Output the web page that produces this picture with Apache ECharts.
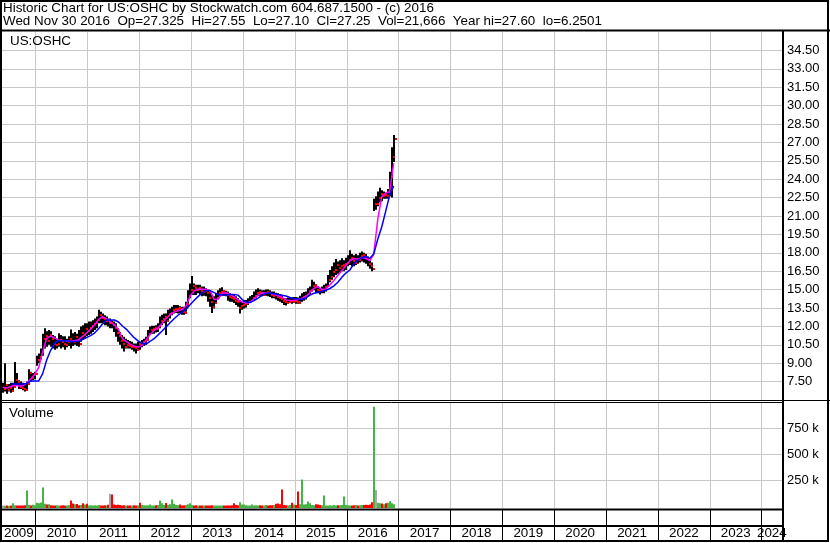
<!DOCTYPE html>
<html><head><meta charset="utf-8">
<script src="https://cdn.jsdelivr.net/npm/echarts@6.0.0/dist/echarts.min.js"></script>
<style>html,body{margin:0;padding:0;background:#fff}#c{width:830px;height:543px}</style>
</head><body><div id="c"></div>
<script>
// ---------------- DATA ----------------
// Bi-weekly bars: [period of year (0-25), high, low, close]
const bars2009 = [[9,7.4,6.6,6.9],[10,9.0,6.7,7.2],[11,7.2,6.5,6.8],[12,7.3,6.7,7.0],[13,7.4,6.6,6.7],[14,7.4,6.7,7.1],[15,9.1,7.0,7.6],[16,8.2,7.2,7.5],[17,7.6,6.9,7.1],[18,7.5,6.9,7.0],[19,7.4,6.8,6.9],[20,7.3,6.7,6.85],[21,7.5,6.9,7.3],[22,8.5,7.4,8.2],[23,8.3,7.5,7.8],[24,8.2,7.6,8.0],[25,8.3,7.7,8.1]];
const bars2010 = [[0,9.6,8.8,9.3],[1,9.8,9.0,9.5],[2,10.2,9.3,9.9],[3,11.4,9.6,11.0],[4,11.85,10.2,11.2],[5,11.6,10.35,10.8],[6,11.7,10.5,11.3],[7,11.6,10.35,11.0],[8,11.3,10.2,10.6],[9,11.2,10.1,10.5],[10,11.0,10.2,10.6],[11,11.45,10.35,10.9],[12,11.3,10.2,10.7],[13,11.2,10.3,10.6],[14,11.2,10.1,10.5],[15,11.0,10.3,10.7],[16,11.2,10.4,11.0],[17,11.75,10.2,10.8],[18,11.45,10.4,10.7],[19,11.55,10.5,11.1],[20,11.4,10.4,10.9],[21,11.7,10.35,10.6],[22,12.0,10.75,11.5],[23,12.1,10.9,11.3],[24,12.25,11.0,11.8],[25,12.25,11.2,11.6]];
const bars2011 = [[0,12.4,11.3,11.9],[1,12.4,11.4,12.0],[2,12.5,11.55,12.2],[3,12.65,11.7,12.3],[4,12.8,11.85,12.5],[5,13.35,12.25,12.9],[6,13.2,12.25,12.7],[7,13.05,12.25,12.6],[8,12.9,12.1,12.4],[9,12.8,12.1,12.5],[10,12.65,12.0,12.3],[11,12.65,11.85,12.3],[12,12.5,11.85,12.1],[13,12.4,11.55,11.9],[14,12.25,11.15,11.5],[15,11.85,10.75,11.2],[16,11.55,10.5,10.8],[17,11.3,10.2,10.6],[18,11.15,9.95,10.3],[19,11.0,10.2,10.5],[20,10.9,10.2,10.4],[21,10.8,10.2,10.3],[22,10.75,10.1,10.35],[23,10.6,9.95,10.2],[24,10.6,9.8,10.1],[25,10.75,10.1,10.6]];
const bars2012 = [[0,10.75,10.1,10.5],[1,10.9,10.3,10.7],[2,11.0,10.4,10.8],[3,11.15,10.5,10.9],[4,11.7,11.0,11.4],[5,12.0,11.3,11.7],[6,12.05,11.4,11.8],[7,12.05,11.4,11.9],[8,12.1,11.5,11.8],[9,12.25,11.55,12.0],[10,12.8,11.85,12.4],[11,12.95,12.1,12.6],[12,13.05,12.25,12.8],[13,13.05,11.3,12.4],[14,13.35,12.4,13.0],[15,13.45,12.65,13.1],[16,13.6,12.9,13.3],[17,13.75,13.05,13.4],[18,13.75,13.1,13.45],[19,13.75,13.05,13.5],[20,13.65,13.1,13.4],[21,13.6,12.95,13.2],[22,13.6,12.95,13.1],[23,14.0,13.2,13.8],[24,14.95,13.6,14.5],[25,15.5,14.3,15.0]];
const bars2013 = [[0,16.1,14.55,15.3],[1,15.5,14.55,15.1],[2,15.4,14.55,15.0],[3,15.4,14.7,15.1],[4,15.4,14.55,14.9],[5,15.25,14.45,14.8],[6,15.25,14.5,14.9],[7,15.1,14.45,14.7],[8,14.95,14.0,14.3],[9,14.85,13.6,14.0],[10,14.55,13.1,13.6],[11,14.45,13.45,13.9],[12,14.7,13.9,14.3],[13,14.95,14.3,14.7],[14,15.1,14.45,14.8],[15,15.2,14.5,14.9],[16,14.95,14.5,14.7],[17,14.9,14.45,14.6],[18,14.85,14.1,14.4],[19,14.7,14.0,14.3],[20,14.55,14.0,14.2],[21,14.55,13.9,14.1],[22,14.45,13.75,14.0],[23,14.3,13.6,13.5],[24,14.15,13.05,13.7],[25,14.0,13.35,13.75]];
const bars2014 = [[0,14.15,13.45,13.8],[1,14.15,13.55,13.9],[2,14.3,13.75,14.0],[3,14.45,13.9,14.1],[4,14.55,14.0,14.3],[5,14.85,14.15,14.5],[6,15.0,14.3,14.7],[7,15.1,14.45,14.8],[8,15.0,14.45,14.7],[9,14.95,14.45,14.6],[10,14.95,14.5,14.7],[11,15.0,14.5,14.8],[12,15.0,14.45,14.7],[13,14.95,14.4,14.6],[14,14.85,14.3,14.5],[15,14.85,14.3,14.55],[16,14.75,14.2,14.4],[17,14.7,14.1,14.3],[18,14.65,14.0,14.2],[19,14.5,13.9,14.1],[20,14.3,13.75,14.0],[21,14.3,13.7,13.9],[22,14.35,13.85,14.0],[23,14.4,13.9,14.1],[24,14.35,13.85,14.0],[25,14.4,13.9,14.1]];
const bars2015 = [[0,14.4,13.85,14.0],[1,14.35,13.85,13.9],[2,14.5,14.0,14.2],[3,14.7,14.0,14.4],[4,14.8,14.1,14.5],[5,14.85,14.2,14.6],[6,15.1,14.45,14.9],[7,15.25,14.55,15.0],[8,15.8,14.85,15.3],[9,15.65,14.95,15.4],[10,15.4,14.7,15.0],[11,15.25,14.7,14.9],[12,15.1,14.6,14.85],[13,15.25,14.7,15.0],[14,15.4,14.7,15.2],[15,15.5,14.85,15.3],[16,16.2,15.3,15.8],[17,16.6,15.6,16.0],[18,16.9,15.8,16.4],[19,17.2,16.0,16.6],[20,17.5,16.2,17.0],[21,17.3,16.3,16.8],[22,17.4,16.4,16.9],[23,17.55,16.5,17.0],[24,17.4,16.5,17.1],[25,17.6,16.6,17.2]];
const bars2016 = [[0,17.8,16.9,17.4],[1,18.2,17.0,17.6],[2,17.9,16.9,17.3],[3,17.8,16.9,17.2],[4,17.9,17.0,17.5],[5,17.8,17.1,17.4],[6,18.0,17.2,17.7],[7,18.1,17.3,17.8],[8,18.0,17.2,17.6],[9,17.9,17.1,17.5],[10,17.7,16.9,17.1],[11,17.4,16.7,16.9],[12,17.2,16.5,16.7],[13,22.4,21.4,22.0],[14,22.6,21.5,22.0],[15,23.0,21.8,22.5],[16,23.3,22.1,22.8],[17,23.1,22.2,22.6],[18,23.0,22.4,22.7],[19,22.9,22.4,22.6],[20,23.2,22.4,22.9],[21,24.6,22.6,24.2],[22,26.6,22.5,25.8],[23,27.6,25.4,27.25]];

// Volume (thousands of shares), aligned with the bars above
const vol2009 = [8,6,10,7,9,30,12,8,9,10,8,12,154,14,10,16,12];
const vol2010 = [35,30,38,183,25,18,22,12,10,9,11,10,8,12,10,9,14,58,28,20,24,12,15,30,18,25];
const vol2011 = [10,12,9,11,8,14,10,9,12,10,16,122,115,18,15,16,14,10,12,9,8,10,9,11,10,12];
const vol2012 = [35,15,12,10,12,18,10,9,12,14,58,30,15,32,14,20,67,26,15,12,18,10,12,14,20,30];
const vol2013 = [15,10,12,9,10,8,9,10,8,9,12,10,9,8,10,9,10,8,9,10,12,30,15,12,40,18];
const vol2014 = [18,12,10,9,18,10,12,9,11,10,9,14,10,11,12,15,25,28,20,163,15,12,10,14,35,18];
const vol2015 = [15,144,20,260,18,22,48,30,15,12,20,18,14,12,106,10,9,12,10,14,10,12,11,13,96,15];
const vol2016 = [12,10,9,12,15,10,12,14,15,16,15,18,40,960,157,35,30,28,22,30,35,50,30,20];

// Moving averages: [period of year, value]
const fast2009 = [[9,7.04],[11,6.97],[13,7.1],[15,7.2],[17,7.15],[19,7.15],[21,7.4],[23,7.7],[25,8.1]];
const fast2010 = [[1,8.65],[3,9.94],[5,11.03],[7,11.22],[9,11.05],[11,10.88],[13,10.85],[15,10.8],[17,10.8],[19,10.84],[21,10.92],[23,11.18],[25,11.46]];
const fast2011 = [[1,11.77],[3,12.13],[5,12.55],[7,12.8],[9,12.62],[11,12.35],[13,12.13],[15,11.75],[17,10.98],[19,10.76],[21,10.54],[23,10.38],[25,10.32]];
const fast2012 = [[1,10.47],[3,10.94],[5,11.36],[7,11.69],[9,11.91],[11,12.27],[13,12.66],[15,12.97],[17,13.18],[19,13.3],[21,13.37],[23,13.7],[25,14.5]];
const fast2013 = [[1,14.9],[3,15.02],[5,15.02],[7,15.02],[9,14.9],[11,14.2],[13,14.22],[15,14.7],[17,14.75],[19,14.6],[21,14.4],[23,14.15],[25,13.99]];
const fast2014 = [[1,13.88],[3,13.99],[5,14.25],[7,14.55],[9,14.74],[11,14.7],[13,14.7],[15,14.62],[17,14.5],[19,14.38],[21,14.15],[23,14.11],[25,14.13]];
const fast2015 = [[1,14.18],[3,14.29],[5,14.44],[7,14.77],[9,15.1],[11,15.25],[13,15.0],[15,15.05],[17,15.37],[19,15.75],[21,16.15],[23,16.55],[25,16.95]];
const fast2016 = [[1,17.35],[3,17.53],[5,17.47],[7,17.62],[9,17.55],[11,17.35],[13,17.9],[15,20.7],[17,22.58],[19,22.88],[21,23.0],[23,25.3]];

const slow2009 = [[13,7.3],[15,7.3],[17,7.3],[19,7.3],[21,7.35],[23,7.55],[25,7.55]];
const slow2010 = [[1,7.55],[3,8.15],[5,9.26],[7,10.05],[9,10.63],[11,10.84],[13,10.84],[15,10.84],[17,10.77],[19,10.76],[21,10.8],[23,10.93],[25,11.08]];
const slow2011 = [[1,11.25],[3,11.46],[5,11.8],[7,12.2],[9,12.52],[11,12.52],[13,12.52],[15,12.36],[17,12.03],[19,11.76],[21,11.4],[23,11.06],[25,10.8]];
const slow2012 = [[1,10.6],[3,10.57],[5,10.79],[7,11.02],[9,11.33],[11,11.65],[13,11.98],[15,12.31],[17,12.64],[19,12.93],[21,13.17],[23,13.39],[25,13.78]];
const slow2013 = [[1,14.13],[3,14.45],[5,14.75],[7,14.92],[9,14.92],[11,14.75],[13,14.6],[15,14.56],[17,14.56],[19,14.6],[21,14.6],[23,14.55],[25,14.2]];
const slow2014 = [[1,13.97],[3,13.95],[5,14.1],[7,14.31],[9,14.53],[11,14.7],[13,14.72],[15,14.66],[17,14.59],[19,14.54],[21,14.48],[23,14.36],[25,14.27]];
const slow2015 = [[1,14.23],[3,14.22],[5,14.32],[7,14.55],[9,14.7],[11,14.78],[13,14.86],[15,14.94],[17,15.09],[19,15.3],[21,15.6],[23,16.0],[25,16.35]];
const slow2016 = [[1,16.6],[3,17.1],[5,17.4],[7,17.6],[9,17.7],[11,17.55],[13,17.9],[15,19.1],[17,20.1],[19,21.4],[21,22.7],[23,23.45]];

const years = [2009, 2010, 2011, 2012, 2013, 2014, 2015, 2016];
const yearLabels = ['2009','2010','2011','2012','2013','2014','2015','2016','2017','2018','2019','2020','2021','2022','2023','2024'];
const headerLine1 = 'Historic Chart for US:OSHC by Stockwatch.com 604.687.1500 - (c) 2016';
const headerLine2 = 'Wed Nov 30 2016  Op=27.325  Hi=27.55  Lo=27.10  Cl=27.25  Vol=21,666  Year hi=27.60  lo=6.2501';
const symbolLabel = 'US:OSHC';
const volumeLabel = 'Volume';
const volumeTicks = [250, 500, 750];

// ---------------- BUILD ----------------
const PER_YEAR = 26;
const X_MIN = 9.1, X_MAX = 400.2;
const pos = (year, k) => (year - 2009) * PER_YEAR + k + 0.5;
const barsByYear = [bars2009,bars2010,bars2011,bars2012,bars2013,bars2014,bars2015,bars2016];
const volByYear = [vol2009,vol2010,vol2011,vol2012,vol2013,vol2014,vol2015,vol2016];
const fastByYear = [fast2009,fast2010,fast2011,fast2012,fast2013,fast2014,fast2015,fast2016];
const slowByYear = [slow2009,slow2010,slow2011,slow2012,slow2013,slow2014,slow2015,slow2016];

const barData = [], closeData = [], volData = [], fastData = [], slowData = [];
let prevClose = null;
years.forEach((y, yi) => {
  barsByYear[yi].forEach((r, j) => {
    const p = pos(y, r[0]);
    barData.push([p, r[1], r[2], r[3]]);
    closeData.push([p, r[3]]);
    const dir = prevClose === null ? 0 : Math.sign(Math.round((r[3] - prevClose) * 1000));
    volData.push([p, volByYear[yi][j], dir]);
    prevClose = r[3];
  });
  fastByYear[yi].forEach(r => fastData.push([pos(y, r[0]), r[1]]));
  slowByYear[yi].forEach(r => slowData.push([pos(y, r[0]), r[1]]));
});

const yearStarts = yearLabels.slice(1).map(s => (Number(s) - 2009) * PER_YEAR);
const yearMids = yearLabels.map((s, i) => {
  const a = Math.max(X_MIN, i * PER_YEAR), b = Math.min(X_MAX, (i + 1) * PER_YEAR);
  return (a + b) / 2;
});

const FONT = '"Liberation Sans", Arial, sans-serif';
const GRID_GRAY = '#c8c8c8';

const chart = echarts.init(document.getElementById('c'), null, {renderer: 'canvas', width: 830, height: 543});

function xAxisCfg(gi, strip) {
  return {
    type: 'value', gridIndex: gi, min: X_MIN, max: X_MAX,
    axisLine: {show: false},
    axisTick: {show: false, customValues: yearStarts},
    splitLine: {show: true, lineStyle: {color: strip ? '#000' : GRID_GRAY, width: 1}},
    axisLabel: strip ? {
      show: true, inside: true, margin: 1, customValues: yearMids,
      formatter: v => yearLabels[Math.floor(v / PER_YEAR)],
      color: '#000', fontSize: 13.4, fontFamily: FONT
    } : {show: false}
  };
}

const option = {
  animation: false,
  backgroundColor: '#fff',
  grid: [
    {left: 2, top: 32, width: 780, height: 368},
    {left: 2, top: 402.5, width: 780, height: 105.5},
    {left: 2, top: 510, width: 780, height: 31}
  ],
  xAxis: [xAxisCfg(0, false), xAxisCfg(1, false), xAxisCfg(2, true)],
  yAxis: [
    {type: 'value', gridIndex: 0, position: 'right', min: 6, max: 36, interval: 1.5,
     axisLine: {show: false}, axisTick: {show: false},
     axisLabel: {formatter: v => v.toFixed(2), showMinLabel: false, showMaxLabel: false,
                 margin: 5, color: '#000', fontSize: 13, fontFamily: FONT, padding: [0, 0, 7, 0]},
     splitLine: {show: true, showMinLine: false, showMaxLine: false, lineStyle: {color: GRID_GRAY, width: 1}}},
    {type: 'value', gridIndex: 1, position: 'right', min: -15, max: 1000,
     axisLine: {show: false}, axisTick: {show: false, customValues: volumeTicks},
     axisLabel: {customValues: volumeTicks, formatter: v => v + ' k',
                 margin: 5, color: '#000', fontSize: 13, fontFamily: FONT, padding: [0, 0, 2, 0]},
     splitLine: {show: true, lineStyle: {color: GRID_GRAY, width: 1}}},
    {type: 'value', gridIndex: 2, show: false, min: 0, max: 1}
  ],
  series: [
    {
      type: 'custom', name: 'bars', xAxisIndex: 0, yAxisIndex: 0, z: 2,
      encode: {x: 0, y: [1, 2, 3]},
      data: barData,
      renderItem: (params, api) => {
        const hi = api.coord([api.value(0), api.value(1)]);
        const lo = api.coord([api.value(0), api.value(2)]);
        return {type: 'rect', shape: {x: Math.round(hi[0]) - 1, y: hi[1], width: 2, height: Math.max(1, lo[1] - hi[1])},
                style: {fill: '#000'}};
      }
    },
    {
      type: 'custom', name: 'close', xAxisIndex: 0, yAxisIndex: 0, z: 3,
      encode: {x: 0, y: 1},
      data: closeData,
      renderItem: (params, api) => {
        const c = api.coord([api.value(0), api.value(1)]);
        return {type: 'rect', shape: {x: Math.round(c[0]) + 1, y: Math.round(c[1]) - 1, width: 2, height: 2},
                style: {fill: '#ff0000'}};
      }
    },
    {type: 'line', name: 'fast', xAxisIndex: 0, yAxisIndex: 0, z: 4, data: fastData,
     showSymbol: false, lineStyle: {color: '#ff00ff', width: 1.5}},
    {type: 'line', name: 'slow', xAxisIndex: 0, yAxisIndex: 0, z: 5, data: slowData,
     showSymbol: false, lineStyle: {color: '#0000ff', width: 1.5}},
    {
      type: 'custom', name: 'volume', xAxisIndex: 1, yAxisIndex: 1, z: 2,
      encode: {x: 0, y: 1},
      data: volData,
      renderItem: (params, api) => {
        const t = api.coord([api.value(0), api.value(1)]);
        const bottom = params.coordSys.y + params.coordSys.height;
        const d = api.value(2);
        return {type: 'rect', shape: {x: Math.round(t[0]) - 1, y: t[1], width: 2, height: Math.max(1, bottom - t[1])},
                style: {fill: d > 0 ? '#44b444' : (d < 0 ? '#ff0000' : '#a8a8a8')}};
      }
    }
  ],
  graphic: [
    {type: 'text', x: 3, y: 8, z: 100, style: {text: headerLine1, font: '13.4px ' + FONT, fill: '#000', verticalAlign: 'middle'}},
    {type: 'text', x: 3, y: 21.5, z: 100, style: {text: headerLine2, font: '13.4px ' + FONT, fill: '#000', verticalAlign: 'middle'}},
    {type: 'text', x: 10, y: 41.5, z: 100, style: {text: symbolLabel, font: '13.4px ' + FONT, fill: '#000', verticalAlign: 'middle'}},
    {type: 'text', x: 9, y: 413, z: 100, style: {text: volumeLabel, font: '13.4px ' + FONT, fill: '#000', verticalAlign: 'middle'}},
    {type: 'rect', z: 100, shape: {x: 1, y: 1, width: 827, height: 540}, style: {fill: null, stroke: '#000', lineWidth: 2}},
    {type: 'line', z: 100, shape: {x1: 0, y1: 30.5, x2: 830, y2: 30.5}, style: {stroke: '#000', lineWidth: 2}},
    {type: 'line', z: 100, shape: {x1: 783, y1: 31, x2: 783, y2: 542}, style: {stroke: '#000', lineWidth: 2}},
    {type: 'line', z: 100, shape: {x1: 0, y1: 400.5, x2: 830, y2: 400.5}, style: {stroke: '#000', lineWidth: 1}},
    {type: 'line', z: 100, shape: {x1: 0, y1: 402.5, x2: 783, y2: 402.5}, style: {stroke: '#000', lineWidth: 1}},
    {type: 'line', z: 100, shape: {x1: 0, y1: 509.5, x2: 783, y2: 509.5}, style: {stroke: '#000', lineWidth: 2}},
    {type: 'line', z: 100, shape: {x1: 0, y1: 526, x2: 783, y2: 526}, style: {stroke: '#000', lineWidth: 2}}
  ]
};
chart.setOption(option);
</script></body></html>
